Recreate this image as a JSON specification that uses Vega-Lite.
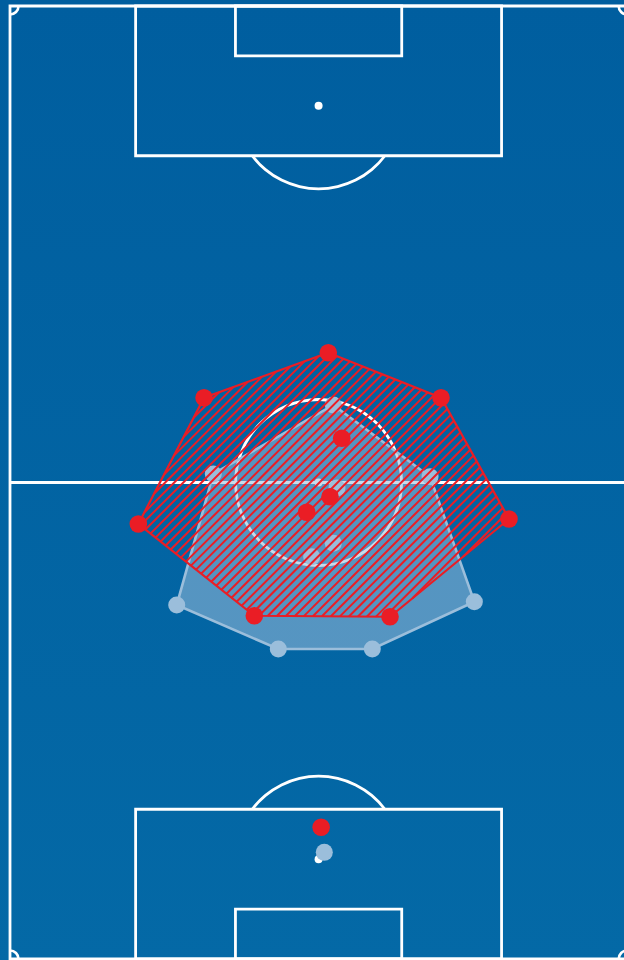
{
  "$schema": "https://vega.github.io/schema/vega-lite/v6.json",
  "width": 614,
  "height": 953,
  "autosize": "none",
  "padding": {"left": 10, "top": 6, "right": 0, "bottom": 1},
  "background": "#02609f",
  "config": {"view": {"stroke": null}, "axis": {"disable": true}},
  "datasets": {
    "lines": [
      {"part": "touchlines", "x": 0, "x2": 68, "y": 0, "y2": 105},
      {"part": "penalty area top", "x": 13.84, "x2": 54.16, "y": 0, "y2": 16.5},
      {"part": "penalty area bottom", "x": 13.84, "x2": 54.16, "y": 88.5, "y2": 105},
      {"part": "six-yard box top", "x": 24.84, "x2": 43.16, "y": 0, "y2": 5.5},
      {"part": "six-yard box bottom", "x": 24.84, "x2": 43.16, "y": 99.5, "y2": 105}
    ],
    "spots": [
      {"part": "penalty spot top", "x": 34, "y": 11},
      {"part": "centre spot", "x": 34, "y": 52.5},
      {"part": "penalty spot bottom", "x": 34, "y": 94}
    ],
    "bigArcs": [
      {"part": "centre circle", "x": 34, "y": 52.5, "t1": 0, "t2": 6.2832},
      {"part": "penalty arc top", "x": 34, "y": 11, "t1": 2.2156, "t2": 4.0676},
      {"part": "penalty arc bottom", "x": 34, "y": 94, "t1": -0.926, "t2": 0.926}
    ],
    "cornerArcs": [
      {"part": "corner TL", "x": 0, "y": 0, "t1": 1.5708, "t2": 3.1416},
      {"part": "corner TR", "x": 68, "y": 0, "t1": 3.1416, "t2": 4.7124},
      {"part": "corner BL", "x": 0, "y": 105, "t1": 0, "t2": 1.5708},
      {"part": "corner BR", "x": 68, "y": 105, "t1": 4.7124, "t2": 6.2832}
    ],
    "players": [
      {"team": "red", "x": 35.07, "y": 38.2, "h": 1},
      {"team": "red", "x": 47.49, "y": 43.16, "h": 2},
      {"team": "red", "x": 54.98, "y": 56.52, "h": 3},
      {"team": "red", "x": 41.87, "y": 67.29, "h": 4},
      {"team": "red", "x": 26.92, "y": 67.18, "h": 5},
      {"team": "red", "x": 14.14, "y": 57.07, "h": 6},
      {"team": "red", "x": 21.38, "y": 43.16, "h": 7},
      {"team": "red", "x": 36.55, "y": 47.63, "h": null},
      {"team": "red", "x": 35.26, "y": 54.07, "h": null},
      {"team": "red", "x": 32.69, "y": 55.78, "h": null},
      {"team": "red", "x": 34.28, "y": 90.49, "h": null},
      {"team": "blue", "x": 35.62, "y": 43.96, "h": 1},
      {"team": "blue", "x": 46.28, "y": 51.86, "h": 2},
      {"team": "blue", "x": 51.16, "y": 65.64, "h": 3},
      {"team": "blue", "x": 39.92, "y": 70.85, "h": 4},
      {"team": "blue", "x": 29.56, "y": 70.85, "h": 5},
      {"team": "blue", "x": 18.37, "y": 66.0, "h": 6},
      {"team": "blue", "x": 22.4, "y": 51.56, "h": 7},
      {"team": "blue", "x": 36.03, "y": 53.11, "h": null},
      {"team": "blue", "x": 35.62, "y": 59.2, "h": null},
      {"team": "blue", "x": 33.24, "y": 60.68, "h": null},
      {"team": "blue", "x": 34.63, "y": 93.25, "h": null}
    ],
    "hatch": [
      {"x": 23.04, "y": 42.56, "x2": 20.23, "y2": 45.37},
      {"x": 24.61, "y": 41.99, "x2": 19.14, "y2": 47.46},
      {"x": 26.18, "y": 41.42, "x2": 18.06, "y2": 49.54},
      {"x": 27.75, "y": 40.85, "x2": 16.97, "y2": 51.63},
      {"x": 29.32, "y": 40.28, "x2": 15.89, "y2": 53.71},
      {"x": 30.88, "y": 39.72, "x2": 14.8, "y2": 55.8},
      {"x": 32.45, "y": 39.15, "x2": 14.36, "y2": 57.24},
      {"x": 34.02, "y": 38.58, "x2": 14.92, "y2": 57.68},
      {"x": 35.31, "y": 38.29, "x2": 15.47, "y2": 58.13},
      {"x": 36.02, "y": 38.58, "x2": 16.03, "y2": 58.57},
      {"x": 36.74, "y": 38.86, "x2": 16.59, "y2": 59.01},
      {"x": 37.45, "y": 39.15, "x2": 17.15, "y2": 59.45},
      {"x": 38.16, "y": 39.44, "x2": 17.71, "y2": 59.89},
      {"x": 38.88, "y": 39.72, "x2": 18.27, "y2": 60.33},
      {"x": 39.59, "y": 40.01, "x2": 18.82, "y2": 60.78},
      {"x": 40.31, "y": 40.29, "x2": 19.38, "y2": 61.22},
      {"x": 41.02, "y": 40.58, "x2": 19.94, "y2": 61.66},
      {"x": 41.74, "y": 40.86, "x2": 20.5, "y2": 62.1},
      {"x": 42.45, "y": 41.15, "x2": 21.06, "y2": 62.54},
      {"x": 43.17, "y": 41.43, "x2": 21.62, "y2": 62.98},
      {"x": 43.88, "y": 41.72, "x2": 22.17, "y2": 63.43},
      {"x": 44.6, "y": 42.0, "x2": 22.73, "y2": 63.87},
      {"x": 45.31, "y": 42.29, "x2": 23.29, "y2": 64.31},
      {"x": 46.03, "y": 42.57, "x2": 23.85, "y2": 64.75},
      {"x": 46.74, "y": 42.86, "x2": 24.41, "y2": 65.19},
      {"x": 47.45, "y": 43.15, "x2": 24.97, "y2": 65.63},
      {"x": 47.83, "y": 43.77, "x2": 25.52, "y2": 66.08},
      {"x": 48.19, "y": 44.41, "x2": 26.08, "y2": 66.52},
      {"x": 48.55, "y": 45.05, "x2": 26.64, "y2": 66.96},
      {"x": 48.91, "y": 45.69, "x2": 27.42, "y2": 67.18},
      {"x": 49.27, "y": 46.33, "x2": 28.41, "y2": 67.19},
      {"x": 49.63, "y": 46.97, "x2": 29.4, "y2": 67.2},
      {"x": 49.99, "y": 47.61, "x2": 30.39, "y2": 67.21},
      {"x": 50.35, "y": 48.25, "x2": 31.39, "y2": 67.21},
      {"x": 50.71, "y": 48.89, "x2": 32.38, "y2": 67.22},
      {"x": 51.06, "y": 49.54, "x2": 33.37, "y2": 67.23},
      {"x": 51.42, "y": 50.18, "x2": 34.37, "y2": 67.23},
      {"x": 51.78, "y": 50.82, "x2": 35.36, "y2": 67.24},
      {"x": 52.14, "y": 51.46, "x2": 36.35, "y2": 67.25},
      {"x": 52.5, "y": 52.1, "x2": 37.34, "y2": 67.26},
      {"x": 52.86, "y": 52.74, "x2": 38.34, "y2": 67.26},
      {"x": 53.22, "y": 53.38, "x2": 39.33, "y2": 67.27},
      {"x": 53.58, "y": 54.02, "x2": 40.32, "y2": 67.28},
      {"x": 53.94, "y": 54.66, "x2": 41.31, "y2": 67.29},
      {"x": 54.3, "y": 55.3, "x2": 44.34, "y2": 65.26},
      {"x": 54.66, "y": 55.94, "x2": 49.94, "y2": 60.66}
    ]
  },
  "layer": [
    {
      "data": {"values": [{"part": "grass"}]},
      "mark": {
        "type": "rect",
        "color": {
          "gradient": "linear", "x1": 0, "y1": 0, "x2": 0, "y2": 1,
          "stops": [{"offset": 0, "color": "#005e9f"}, {"offset": 1, "color": "#0469a6"}]
        }
      },
      "encoding": {
        "x": {"datum": -2, "type": "quantitative", "scale": {"domain": [0, 67.65], "nice": false, "zero": false}},
        "x2": {"datum": 70},
        "y": {"datum": -1, "type": "quantitative", "scale": {"domain": [0, 105], "reverse": true, "nice": false, "zero": false}},
        "y2": {"datum": 106}
      }
    },
    {
      "data": {"name": "lines"},
      "mark": {"type": "rect", "filled": false, "stroke": "white", "strokeWidth": 2.8},
      "encoding": {
        "x": {"field": "x", "type": "quantitative"},
        "x2": {"field": "x2"},
        "y": {"field": "y", "type": "quantitative"},
        "y2": {"field": "y2"}
      }
    },
    {
      "data": {"values": [{"part": "halfway line"}]},
      "mark": {"type": "rule", "color": "white", "strokeWidth": 2.8},
      "encoding": {
        "x": {"datum": 0, "type": "quantitative"},
        "x2": {"datum": 68},
        "y": {"datum": 52.5, "type": "quantitative"}
      }
    },
    {
      "data": {"name": "bigArcs"},
      "mark": {"type": "arc", "color": "white", "radius": 84.4, "radius2": 81.6},
      "encoding": {
        "x": {"field": "x", "type": "quantitative"},
        "y": {"field": "y", "type": "quantitative"},
        "theta": {"field": "t1", "type": "quantitative", "scale": null},
        "theta2": {"field": "t2"}
      }
    },
    {
      "data": {"name": "cornerArcs"},
      "mark": {"type": "arc", "color": "white", "radius": 9.8, "radius2": 7.2},
      "encoding": {
        "x": {"field": "x", "type": "quantitative"},
        "y": {"field": "y", "type": "quantitative"},
        "theta": {"field": "t1", "type": "quantitative", "scale": null},
        "theta2": {"field": "t2"}
      }
    },
    {
      "data": {"name": "spots"},
      "mark": {"type": "point", "filled": true, "color": "white", "opacity": 1, "size": 64},
      "encoding": {
        "x": {"field": "x", "type": "quantitative"},
        "y": {"field": "y", "type": "quantitative"}
      }
    },
    {
      "data": {"name": "players"},
      "transform": [{"filter": {"field": "team", "equal": "blue"}}, {"filter": {"field": "h", "valid": true}}],
      "mark": {"type": "line", "interpolate": "linear-closed", "stroke": "#9bbedb", "strokeWidth": 2.6, "fill": "#9bbedb", "fillOpacity": 0.55},
      "encoding": {
        "x": {"field": "x", "type": "quantitative"},
        "y": {"field": "y", "type": "quantitative"},
        "order": {"field": "h", "type": "quantitative"}
      }
    },
    {
      "data": {"name": "players"},
      "transform": [{"filter": {"field": "team", "equal": "blue"}}],
      "mark": {"type": "point", "filled": true, "color": "#9bbedb", "opacity": 1, "size": 290},
      "encoding": {
        "x": {"field": "x", "type": "quantitative"},
        "y": {"field": "y", "type": "quantitative"}
      }
    },
    {
      "data": {"name": "hatch"},
      "mark": {"type": "rule", "color": "#ea1d25", "strokeWidth": 2},
      "encoding": {
        "x": {"field": "x", "type": "quantitative"},
        "y": {"field": "y", "type": "quantitative"},
        "x2": {"field": "x2"},
        "y2": {"field": "y2"}
      }
    },
    {
      "data": {"name": "players"},
      "transform": [{"filter": {"field": "team", "equal": "red"}}, {"filter": {"field": "h", "valid": true}}],
      "mark": {"type": "line", "interpolate": "linear-closed", "stroke": "#ea1d25", "strokeWidth": 2.2},
      "encoding": {
        "x": {"field": "x", "type": "quantitative"},
        "y": {"field": "y", "type": "quantitative"},
        "order": {"field": "h", "type": "quantitative"}
      }
    },
    {
      "data": {"name": "players"},
      "transform": [{"filter": {"field": "team", "equal": "red"}}],
      "mark": {"type": "point", "filled": true, "color": "#ea1d25", "opacity": 1, "size": 310},
      "encoding": {
        "x": {"field": "x", "type": "quantitative"},
        "y": {"field": "y", "type": "quantitative"}
      }
    }
  ]
}
